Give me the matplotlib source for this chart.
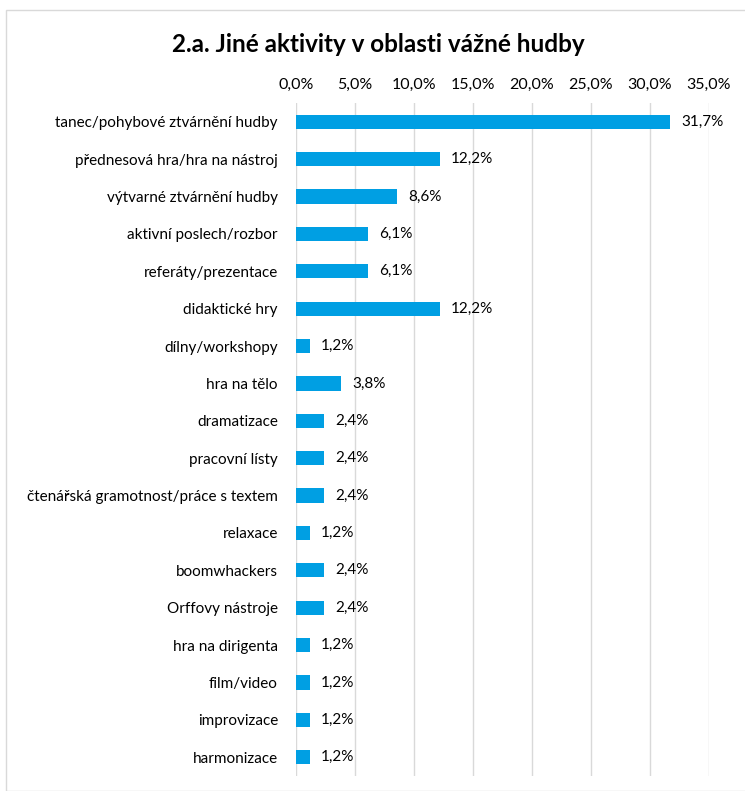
import matplotlib
matplotlib.use("Agg")
import matplotlib.pyplot as plt
from matplotlib.patches import Rectangle
from matplotlib.ticker import FuncFormatter

categories = ["tanec/pohybové ztvárnění hudby", "přednesová hra/hra na nástroj",
              "výtvarné ztvárnění hudby", "aktivní poslech/rozbor",
              "referáty/prezentace", "didaktické hry", "dílny/workshopy",
              "hra na tělo", "dramatizace", "pracovní lísty",
              "čtenářská gramotnost/práce s textem", "relaxace", "boomwhackers",
              "Orffovy nástroje", "hra na dirigenta", "film/video",
              "improvizace", "harmonizace"]
values = [31.7, 12.2, 8.6, 6.1, 6.1, 12.2, 1.2, 3.8, 2.4, 2.4, 2.4, 1.2,
          2.4, 2.4, 1.2, 1.2, 1.2, 1.2]
xticks = [0, 5, 10, 15, 20, 25, 30, 35]
title = "2.a. Jiné aktivity v oblasti vážné hudby"

plt.rcParams['font.family'] = ['Lato', 'DejaVu Sans']

fig = plt.figure(figsize=(7.45, 7.91), dpi=100)
fig.patches.append(Rectangle((6/745, 0), 1.0, 1 - 10/791, transform=fig.transFigure,
                             fill=False, edgecolor='#d9d9d9', linewidth=1.0))
ax = fig.add_axes([296/745, 1 - 776/791, 413/745, 673/791])

y = list(range(len(categories)))
ax.barh(y, values, height=0.38, color='#009FE3', zorder=3)
for yi, v in zip(y, values):
    ax.annotate(f"{v:.1f}%".replace('.', ','), xy=(v, yi), xytext=(8, 0),
                textcoords='offset points', va='center', ha='left',
                fontsize=11, color='#000000')

ax.set_ylim(len(categories) - 0.5, -0.5)
ax.set_xlim(0, 35)
ax.set_yticks(y)
ax.set_yticklabels(categories, fontsize=11)
ax.set_xticks(xticks)
ax.xaxis.set_major_formatter(FuncFormatter(lambda v, p: f"{v:.1f}%".replace('.', ',')))
ax.xaxis.tick_top()
ax.tick_params(axis='x', labelsize=11.5, length=0, pad=8)
ax.tick_params(axis='y', length=0, pad=13)
ax.grid(axis='x', color='#d9d9d9', linewidth=1.0, zorder=0)
for s in ax.spines.values():
    s.set_visible(False)

fig.text(378/745, 1 - 45/791, title, ha='center', va='center', fontsize=17.5,
         fontweight='bold')

fig.savefig("out.png", dpi=100)
